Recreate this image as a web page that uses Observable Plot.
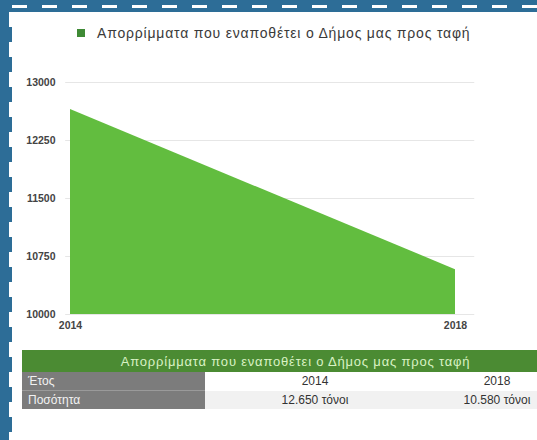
<!DOCTYPE html>
<html>
<head>
<meta charset="utf-8">
<script src="https://cdn.jsdelivr.net/npm/d3@7"></script>
<script src="https://cdn.jsdelivr.net/npm/@observablehq/plot@0.6"></script>
<style>
  html, body { margin:0; padding:0; width:537px; height:440px; overflow:hidden; background:#2d6d97; font-family:"Liberation Sans", Arial, sans-serif; }
  #frame { position:absolute; left:12px; top:12px; width:540px; height:440px; background:#fff; }
  #dashTop { position:absolute; left:12px; top:5px; width:530px; height:3px;
    background:repeating-linear-gradient(90deg,#fff 0 15px,transparent 15px 30px); }
  #dashLeft { position:absolute; left:9px; top:12px; width:3px; height:430px;
    background:repeating-linear-gradient(180deg,#fff 0 15px,transparent 15px 30px); }
  #legend { position:absolute; left:77px; top:25px; font-size:14px; letter-spacing:0.8px; color:#3a3a3a; display:flex; align-items:center; white-space:nowrap; }
  #legend .sw { width:8px; height:8px; background:#3f8a35; margin-right:12px; }
  #chart { position:absolute; left:0; top:60px; }
  table { position:absolute; left:22px; top:350px; border-collapse:collapse; font-size:12px; width:547px; table-layout:fixed; }
  td, th { padding:0; height:18px; }
  th { background:#4b8b33; color:#d9f2c4; font-weight:normal; height:22px; text-align:center; font-size:13px; letter-spacing:0.8px; }
  td.h { background:#7c7c7c; color:#f2f2f2; width:177px; padding-left:6px; text-align:left; }
  td.c { text-align:center; color:#333; }
  tr.r2 td.c { background:#f1f1f1; }
  tr.r1 td.h { border-bottom:1px solid #9a9a9a; }
</style>
</head>
<body>
<div id="frame"></div>
<div id="dashTop"></div>
<div id="dashLeft"></div>
<div id="legend"><div class="sw"></div><span id="legendText"></span></div>
<div id="chart"></div>
<table id="tbl"></table>
<script>
const seriesName = "Απορρίμματα που εναποθέτει ο Δήμος μας προς ταφή";
const years = [2014, 2018];
const tons = [12650, 10580];
const tonLabels = ["12.650 τόνοι", "10.580 τόνοι"];
const yTicks = [10000, 10750, 11500, 12250, 13000];
const rowLabels = ["Έτος", "Ποσότητα"];

document.getElementById("legendText").textContent = seriesName;

const data = years.map((y, i) => ({year: y, value: tons[i]}));

const chart = Plot.plot({
  width: 500,
  height: 280,
  marginLeft: 70,
  marginRight: 45,
  marginTop: 22,
  marginBottom: 26,
  style: {fontFamily: "Liberation Sans, Arial, sans-serif", fontSize: "10.5px", color: "#333", background: "transparent"},
  x: {domain: [2014, 2018], tickSize: 0, label: null},
  y: {domain: [10000, 13000], tickSize: 0, label: null},
  marks: [
    Plot.ruleY(yTicks, {stroke: "#e6e6e6", x1: 2013.95, x2: 2018.2}),
    Plot.areaY(data, {x: "year", y1: 10000, y2: "value", fill: "#62bd3f"}),
    Plot.axisY({ticks: yTicks, tickSize: 0, tickPadding: 15, fontWeight: "bold", fill: "#444", tickFormat: d => String(d)}),
    Plot.axisX({ticks: years, tickSize: 0, tickPadding: 7, fontWeight: "bold", fill: "#444", tickFormat: d => String(d)})
  ]
});
document.getElementById("chart").appendChild(chart);

const tbl = document.getElementById("tbl");
tbl.innerHTML =
  `<tr><th style="width:183px"></th><th style="width:220px"></th><th></th></tr>`.replace(/<th[^>]*><\/th>/g, "") +
  `<colgroup><col style="width:183px"><col style="width:220px"><col style="width:144px"></colgroup>` +
  `<tr><th colspan="3">${seriesName}</th></tr>` +
  `<tr class="r1"><td class="h">${rowLabels[0]}</td><td class="c">${years[0]}</td><td class="c">${years[1]}</td></tr>` +
  `<tr class="r2"><td class="h">${rowLabels[1]}</td><td class="c">${tonLabels[0]}</td><td class="c">${tonLabels[1]}</td></tr>`;
</script>
</body>
</html>
